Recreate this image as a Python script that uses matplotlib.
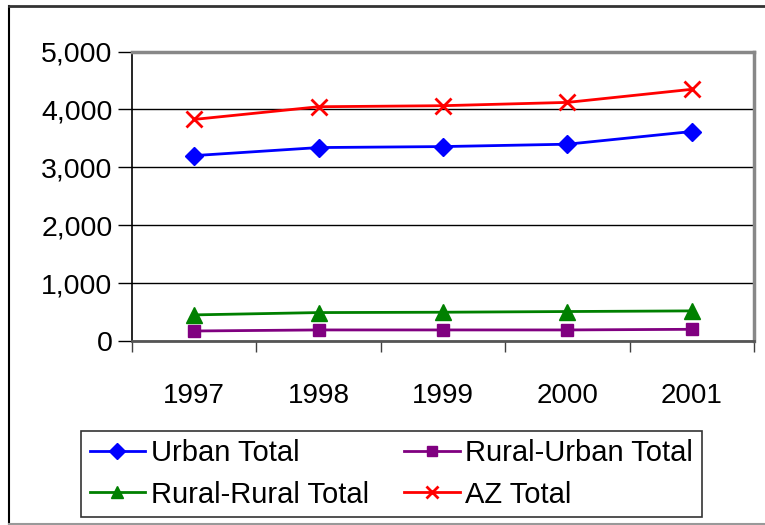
import matplotlib
matplotlib.use("Agg")
import matplotlib.pyplot as plt
from matplotlib.lines import Line2D
from matplotlib.ticker import FuncFormatter, FixedLocator

years = ["1997", "1998", "1999", "2000", "2001"]
urban_total = [3202, 3341, 3358, 3399, 3618]
rural_urban_total = [173, 191, 191, 191, 202]
rural_rural_total = [451, 491, 497, 509, 520]
az_total = [3827, 4046, 4064, 4121, 4347]

plt.rcParams['font.family'] = ['Liberation Sans', 'DejaVu Sans']

W, H = 765, 525
fig = plt.figure(figsize=(W / 100, H / 100), dpi=100)
L, R, T, B = 132, 754, 51.5, 341
ax = fig.add_axes([L / W, 1 - B / H, (R - L) / W, (B - T) / H])

x = list(range(len(years)))
h1, = ax.plot(x, urban_total, color="#0000FF", lw=2, marker="D", ms=9, label="Urban Total")
h2, = ax.plot(x, rural_urban_total, color="#800080", lw=2, marker="s", ms=9, label="Rural-Urban Total")
h3, = ax.plot(x, rural_rural_total, color="#008000", lw=2, marker="^", ms=11, label="Rural-Rural Total")
h4, = ax.plot(x, az_total, color="#FF0000", lw=2, marker="x", ms=11, mew=2, label="AZ Total")

ax.set_xlim(-0.5, 4.5)
ax.set_ylim(0, 5000)
ax.set_yticks([0, 1000, 2000, 3000, 4000, 5000])
ax.yaxis.set_major_formatter(FuncFormatter(lambda v, p: f"{int(v):,}"))
ax.grid(axis="y", color="black", lw=1)
ax.set_axisbelow(True)

ax.set_xticks(x)
ax.set_xticklabels(years)
ax.xaxis.set_minor_locator(FixedLocator([-0.5, 0.5, 1.5, 2.5, 3.5, 4.5]))
ax.tick_params(axis="x", which="major", length=0, pad=30, labelsize=20)
ax.tick_params(axis="x", which="minor", length=8, width=1, color="#404040")
ax.tick_params(axis="y", length=10, width=1, labelsize=20.5, pad=4)

ax.spines["left"].set_color("black")
ax.spines["left"].set_linewidth(1.2)
ax.spines["bottom"].set_color("#555555")
ax.spines["bottom"].set_linewidth(2)
ax.spines["top"].set_color("#888888")
ax.spines["top"].set_linewidth(2.5)
ax.spines["right"].set_color("#888888")
ax.spines["right"].set_linewidth(2.5)

leg = fig.legend(handles=[h1, h3, h2, h4],
                 loc="center", bbox_to_anchor=((78 + 705) / 2 / W, 1 - (431 + 517) / 2 / H),
                 ncol=2, fontsize=21, frameon=True, fancybox=False, edgecolor="black",
                 handlelength=1.9, handletextpad=0.2, columnspacing=1.2, markerscale=0.85,
                 labelspacing=0.45, borderpad=0.3, borderaxespad=0)
leg.get_frame().set_linewidth(1.2)

# outer chart border
fig.add_artist(Line2D([9 / W, 9 / W], [1 - 6 / H, 1 - 524 / H], color="black", lw=1.5, transform=fig.transFigure))
fig.add_artist(Line2D([9 / W, 1], [1 - 6 / H, 1 - 6 / H], color="#333333", lw=2, transform=fig.transFigure))
fig.add_artist(Line2D([9 / W, 1], [1 - 524 / H, 1 - 524 / H], color="#999999", lw=1.5, transform=fig.transFigure))

fig.savefig("out.png", dpi=100)
